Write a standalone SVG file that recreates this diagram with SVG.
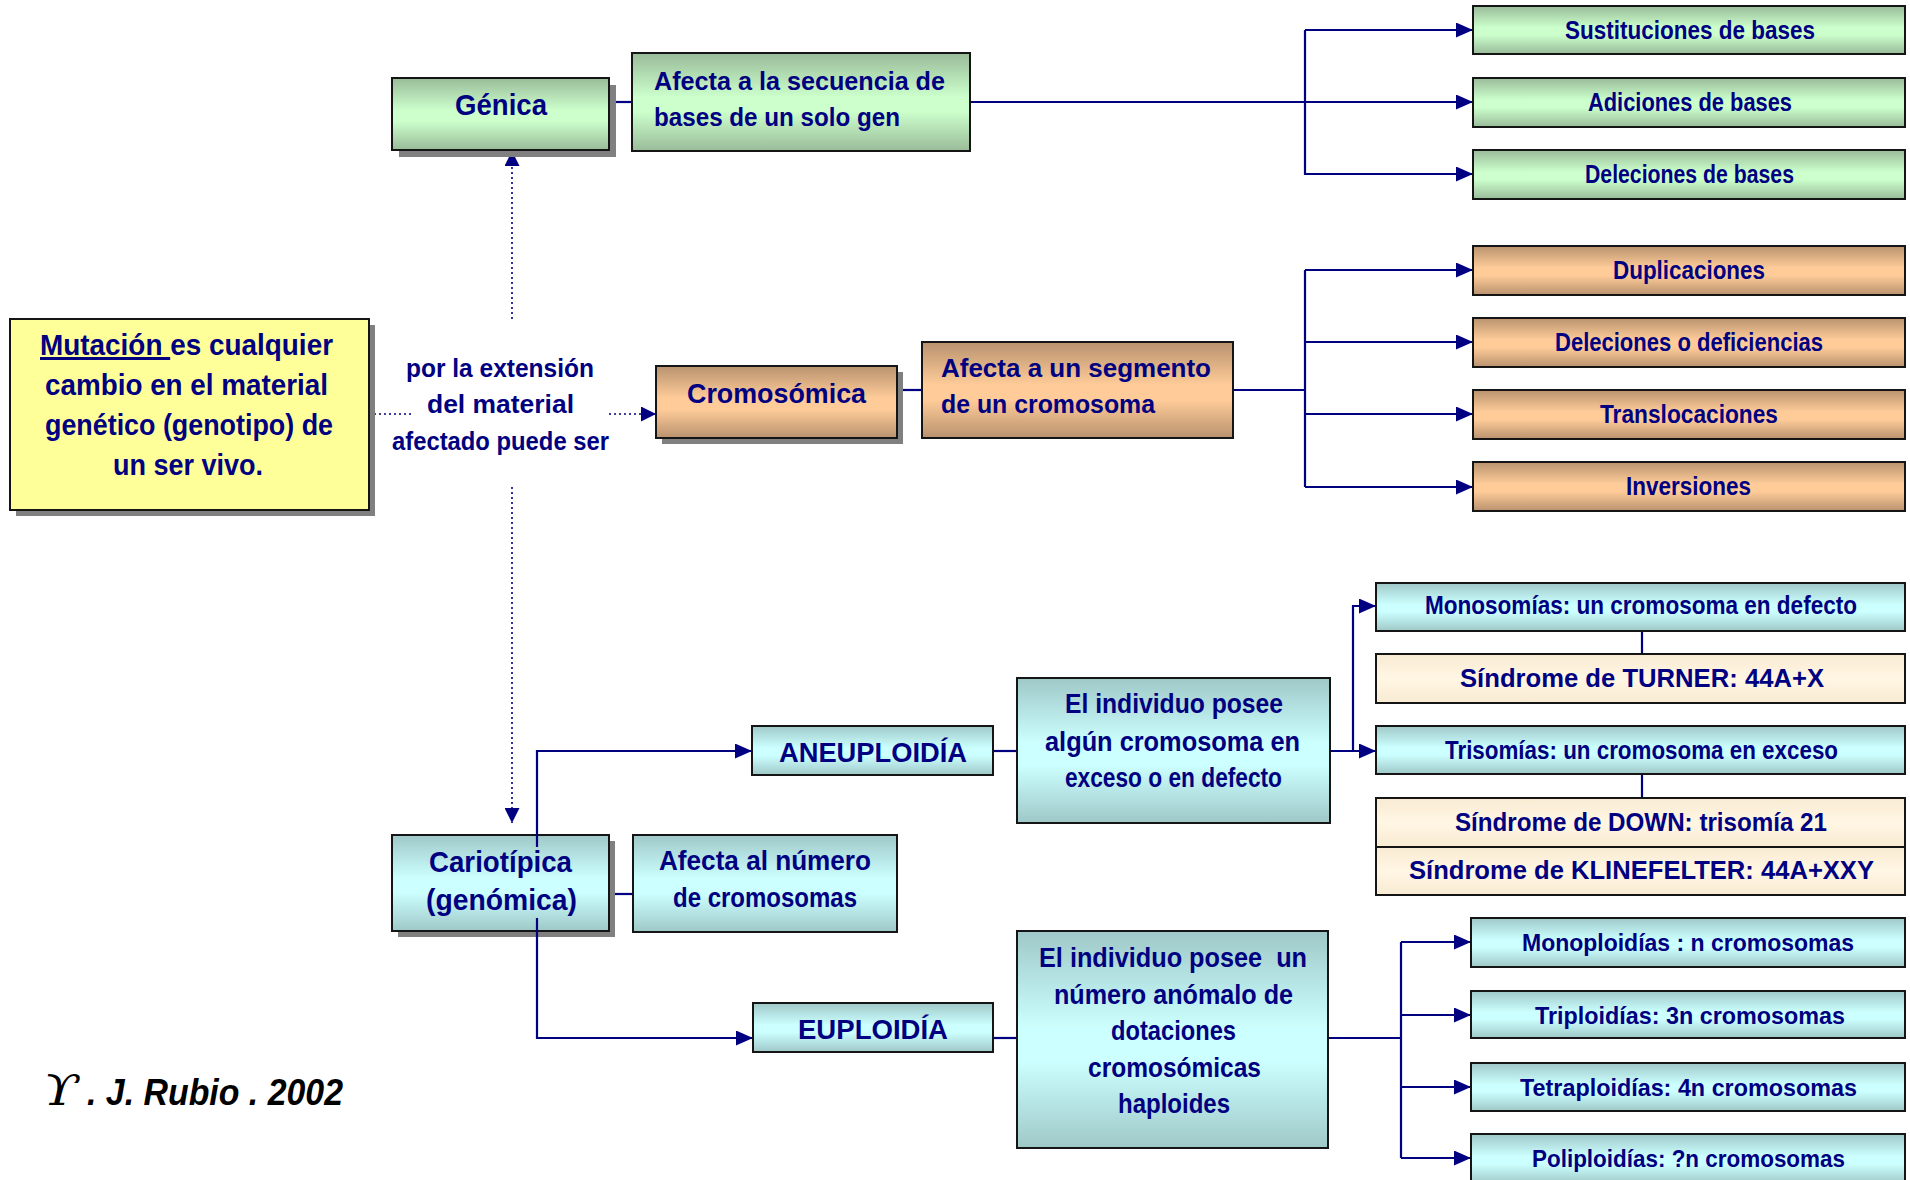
<svg xmlns="http://www.w3.org/2000/svg" width="1910" height="1180" viewBox="0 0 1910 1180">
<defs>
<linearGradient id="gGreen" x1="0" y1="0" x2="0" y2="1">
<stop offset="0" stop-color="#99BB99"/><stop offset="0.45" stop-color="#CCFFCC"/><stop offset="0.6" stop-color="#CCFFCC"/><stop offset="1" stop-color="#99BB99"/>
</linearGradient>
<linearGradient id="gOrange" x1="0" y1="0" x2="0" y2="1">
<stop offset="0" stop-color="#B8926E"/><stop offset="0.45" stop-color="#FFCC99"/><stop offset="0.6" stop-color="#FFCC99"/><stop offset="1" stop-color="#B8926E"/>
</linearGradient>
<linearGradient id="gCyan" x1="0" y1="0" x2="0" y2="1">
<stop offset="0" stop-color="#9FC8C8"/><stop offset="0.45" stop-color="#CCFFFF"/><stop offset="0.6" stop-color="#CCFFFF"/><stop offset="1" stop-color="#9FC8C8"/>
</linearGradient>
<linearGradient id="gBeige" x1="0" y1="0" x2="0" y2="1">
<stop offset="0" stop-color="#F9EBD2"/><stop offset="0.5" stop-color="#FFF6E4"/><stop offset="1" stop-color="#F9EBD2"/>
</linearGradient>
<marker id="arr" markerUnits="userSpaceOnUse" markerWidth="17" markerHeight="15" refX="17" refY="7.5" orient="auto">
<path d="M0,0 L17,7.5 L0,15 z" fill="#000080"/>
</marker>
<marker id="arrS" markerUnits="userSpaceOnUse" markerWidth="15" markerHeight="15" refX="15" refY="7.5" orient="auto">
<path d="M0,0 L15,7.5 L0,15 z" fill="#000080"/>
</marker>
</defs>
<style>
.box{stroke:#151515;stroke-width:2}
.gr{fill:url(#gGreen)}
.or{fill:url(#gOrange)}
.cy{fill:url(#gCyan)}
.be{fill:url(#gBeige)}
.ye{fill:#FFFF99}
.sh{fill:#808080}
text{font-family:"Liberation Sans",Arial,sans-serif;font-weight:bold;fill:#000080}
.c{text-anchor:middle}
.f30{font-size:30px}
.f27{font-size:27px}
.f25{font-size:25px}
.f24{font-size:24px}
.ln{fill:none;stroke:#000080;stroke-width:2.2}
.dot{fill:none;stroke:#000080;stroke-width:1.6;stroke-dasharray:2,3}
</style>
<rect width="1910" height="1180" fill="#FFFFFF"/>

<g id="connectors">
<line class="dot" x1="369" y1="414" x2="414" y2="414"/>
<line class="dot" x1="609" y1="414" x2="656" y2="414" marker-end="url(#arrS)"/>
<line class="dot" x1="512" y1="319" x2="512" y2="151" marker-end="url(#arrS)"/>
<line class="dot" x1="512" y1="487" x2="512" y2="823" marker-end="url(#arrS)"/>
<line class="ln" x1="609" y1="102" x2="632" y2="102"/>
<line class="ln" x1="970" y1="102" x2="1473" y2="102" marker-end="url(#arr)"/>
<polyline class="ln" points="1305,30 1305,174 1473,174" marker-end="url(#arr)"/>
<line class="ln" x1="1305" y1="30" x2="1473" y2="30" marker-end="url(#arr)"/>
<line class="ln" x1="897" y1="390" x2="922" y2="390"/>
<line class="ln" x1="1233" y1="390" x2="1305" y2="390"/>
<line class="ln" x1="1305" y1="270" x2="1305" y2="487"/>
<line class="ln" x1="1305" y1="270" x2="1473" y2="270" marker-end="url(#arr)"/>
<line class="ln" x1="1305" y1="342" x2="1473" y2="342" marker-end="url(#arr)"/>
<line class="ln" x1="1305" y1="414" x2="1473" y2="414" marker-end="url(#arr)"/>
<line class="ln" x1="1305" y1="487" x2="1473" y2="487" marker-end="url(#arr)"/>
<line class="ln" x1="609" y1="894" x2="633" y2="894"/>
<line class="ln" x1="993" y1="751" x2="1017" y2="751"/>
<line class="ln" x1="1330" y1="751" x2="1376" y2="751" marker-end="url(#arr)"/>
<polyline class="ln" points="1353,751 1353,606 1376,606" marker-end="url(#arr)"/>
<line class="ln" x1="1642" y1="631" x2="1642" y2="654"/>
<line class="ln" x1="1642" y1="774" x2="1642" y2="798"/>
<line class="ln" x1="993" y1="1038" x2="1017" y2="1038"/>
<line class="ln" x1="1328" y1="1038" x2="1401" y2="1038"/>
<line class="ln" x1="1401" y1="942" x2="1401" y2="1158"/>
<line class="ln" x1="1401" y1="942" x2="1471" y2="942" marker-end="url(#arr)"/>
<line class="ln" x1="1401" y1="1015" x2="1471" y2="1015" marker-end="url(#arr)"/>
<line class="ln" x1="1401" y1="1087" x2="1471" y2="1087" marker-end="url(#arr)"/>
<line class="ln" x1="1401" y1="1158" x2="1471" y2="1158" marker-end="url(#arr)"/>
</g>

<g id="mutacion">
<rect class="sh" x="16" y="325" width="359" height="191"/>
<rect class="box ye" x="10" y="319" width="359" height="191"/>
<text class="f30" x="40" y="355" textLength="293" lengthAdjust="spacingAndGlyphs"><tspan text-decoration="underline">Mutación </tspan>es cualquier</text>
<text class="f30 c" x="186.5" y="395" textLength="283" lengthAdjust="spacingAndGlyphs">cambio en el material</text>
<text class="f30 c" x="189" y="435" textLength="288" lengthAdjust="spacingAndGlyphs">genético (genotipo) de</text>
<text class="f30 c" x="188" y="475" textLength="150" lengthAdjust="spacingAndGlyphs">un ser vivo.</text>
</g>

<g id="label-extension">
<text class="f25 c" x="500" y="377" textLength="188" lengthAdjust="spacingAndGlyphs">por la extensión</text>
<text class="f25 c" x="500.5" y="413" textLength="147" lengthAdjust="spacingAndGlyphs">del material</text>
<text class="f25 c" x="500.5" y="450" textLength="217" lengthAdjust="spacingAndGlyphs">afectado puede ser</text>
</g>

<g id="genica">
<rect class="sh" x="399" y="85" width="217" height="72"/>
<rect class="box gr" x="392" y="78" width="217" height="72"/>
<text class="f30 c" x="501" y="115" textLength="92" lengthAdjust="spacingAndGlyphs">Génica</text>
</g>
<g id="afecta-secuencia">
<rect class="box gr" x="632" y="53" width="338" height="98"/>
<text class="f25" x="654" y="90" textLength="291" lengthAdjust="spacingAndGlyphs">Afecta a la secuencia de</text>
<text class="f25" x="654" y="126" textLength="246" lengthAdjust="spacingAndGlyphs">bases de un solo gen</text>
</g>
<g id="sustituciones">
<rect class="box gr" x="1473" y="6" width="432" height="48"/>
<text class="f25 c" x="1690" y="39" textLength="250" lengthAdjust="spacingAndGlyphs">Sustituciones de bases</text>
</g>
<g id="adiciones">
<rect class="box gr" x="1473" y="78" width="432" height="49"/>
<text class="f25 c" x="1690" y="111" textLength="204" lengthAdjust="spacingAndGlyphs">Adiciones de bases</text>
</g>
<g id="deleciones-bases">
<rect class="box gr" x="1473" y="150" width="432" height="49"/>
<text class="f25 c" x="1689.5" y="183" textLength="209" lengthAdjust="spacingAndGlyphs">Deleciones de bases</text>
</g>

<g id="cromosomica">
<rect class="sh" x="662" y="372" width="241" height="72"/>
<rect class="box or" x="656" y="366" width="241" height="72"/>
<text class="f27 c" x="776.5" y="403" textLength="179" lengthAdjust="spacingAndGlyphs">Cromosómica</text>
</g>
<g id="afecta-segmento">
<rect class="box or" x="922" y="342" width="311" height="96"/>
<text class="f25" x="941" y="377" textLength="270" lengthAdjust="spacingAndGlyphs">Afecta a un segmento</text>
<text class="f25" x="941" y="413" textLength="214" lengthAdjust="spacingAndGlyphs">de un cromosoma</text>
</g>
<g id="duplicaciones">
<rect class="box or" x="1473" y="246" width="432" height="49"/>
<text class="f25 c" x="1689" y="279" textLength="152" lengthAdjust="spacingAndGlyphs">Duplicaciones</text>
</g>
<g id="deleciones-deficiencias">
<rect class="box or" x="1473" y="318" width="432" height="49"/>
<text class="f25 c" x="1689" y="351" textLength="268" lengthAdjust="spacingAndGlyphs">Deleciones o deficiencias</text>
</g>
<g id="translocaciones">
<rect class="box or" x="1473" y="390" width="432" height="49"/>
<text class="f25 c" x="1689" y="423" textLength="178" lengthAdjust="spacingAndGlyphs">Translocaciones</text>
</g>
<g id="inversiones">
<rect class="box or" x="1473" y="462" width="432" height="49"/>
<text class="f25 c" x="1688.5" y="495" textLength="125" lengthAdjust="spacingAndGlyphs">Inversiones</text>
</g>

<g id="cariotipica">
<rect class="sh" x="398" y="841" width="217" height="96"/>
<rect class="box cy" x="392" y="835" width="217" height="96"/>
<text class="f30 c" x="500.5" y="872" textLength="143" lengthAdjust="spacingAndGlyphs">Cariotípica</text>
<text class="f30 c" x="501.5" y="910" textLength="151" lengthAdjust="spacingAndGlyphs">(genómica)</text>
</g>
<g id="cariotipica-lines">
<polyline class="ln" points="537,847 537,751 752,751" marker-end="url(#arr)"/>
<polyline class="ln" points="537,918 537,1038 753,1038" marker-end="url(#arr)"/>
</g>
<g id="afecta-numero">
<rect class="box cy" x="633" y="835" width="264" height="97"/>
<text class="f27 c" x="765" y="870" textLength="212" lengthAdjust="spacingAndGlyphs">Afecta al número</text>
<text class="f27 c" x="765" y="907" textLength="184" lengthAdjust="spacingAndGlyphs">de cromosomas</text>
</g>
<g id="aneuploidia">
<rect class="box cy" x="752" y="726" width="241" height="49"/>
<text class="f27 c" x="873" y="762" textLength="188" lengthAdjust="spacingAndGlyphs">ANEUPLOIDÍA</text>
</g>
<g id="individuo-aneu">
<rect class="box cy" x="1017" y="678" width="313" height="145"/>
<text class="f27 c" x="1174" y="713" textLength="218" lengthAdjust="spacingAndGlyphs">El individuo posee</text>
<text class="f27 c" x="1172.5" y="751" textLength="255" lengthAdjust="spacingAndGlyphs">algún cromosoma en</text>
<text class="f27 c" x="1173.5" y="787" textLength="217" lengthAdjust="spacingAndGlyphs">exceso o en defecto</text>
</g>
<g id="monosomias">
<rect class="box cy" x="1376" y="583" width="529" height="48"/>
<text class="f25 c" x="1641" y="614" textLength="432" lengthAdjust="spacingAndGlyphs">Monosomías: un cromosoma en defecto</text>
</g>
<g id="turner">
<rect class="box be" x="1376" y="654" width="529" height="49"/>
<text class="f25 c" x="1642" y="687" textLength="364" lengthAdjust="spacingAndGlyphs">Síndrome de TURNER: 44A+X</text>
</g>
<g id="trisomias">
<rect class="box cy" x="1376" y="726" width="529" height="48"/>
<text class="f25 c" x="1641.5" y="759" textLength="393" lengthAdjust="spacingAndGlyphs">Trisomías: un cromosoma en exceso</text>
</g>
<g id="down">
<rect class="box be" x="1376" y="798" width="529" height="49"/>
<text class="f25 c" x="1641" y="831" textLength="372" lengthAdjust="spacingAndGlyphs">Síndrome de DOWN: trisomía 21</text>
</g>
<g id="klinefelter">
<rect class="box be" x="1376" y="847" width="529" height="48"/>
<text class="f25 c" x="1641.5" y="879" textLength="465" lengthAdjust="spacingAndGlyphs">Síndrome de KLINEFELTER: 44A+XXY</text>
</g>

<g id="euploidia">
<rect class="box cy" x="753" y="1003" width="240" height="49"/>
<text class="f27 c" x="873" y="1039" textLength="150" lengthAdjust="spacingAndGlyphs">EUPLOIDÍA</text>
</g>
<g id="individuo-euplo">
<rect class="box cy" x="1017" y="931" width="311" height="217"/>
<text class="f27 c" x="1173" y="967" textLength="268" lengthAdjust="spacingAndGlyphs" xml:space="preserve">El individuo posee  un</text>
<text class="f27 c" x="1173.5" y="1004" textLength="239" lengthAdjust="spacingAndGlyphs">número anómalo de</text>
<text class="f27 c" x="1173.5" y="1040" textLength="125" lengthAdjust="spacingAndGlyphs">dotaciones</text>
<text class="f27 c" x="1174.5" y="1077" textLength="173" lengthAdjust="spacingAndGlyphs">cromosómicas</text>
<text class="f27 c" x="1174" y="1113" textLength="112" lengthAdjust="spacingAndGlyphs">haploides</text>
</g>
<g id="monoploidias">
<rect class="box cy" x="1471" y="918" width="434" height="49"/>
<text class="f24 c" x="1688" y="951" textLength="332" lengthAdjust="spacingAndGlyphs">Monoploidías : n cromosomas</text>
</g>
<g id="triploidias">
<rect class="box cy" x="1471" y="991" width="434" height="47"/>
<text class="f24 c" x="1690" y="1024" textLength="310" lengthAdjust="spacingAndGlyphs">Triploidías: 3n cromosomas</text>
</g>
<g id="tetraploidias">
<rect class="box cy" x="1471" y="1063" width="434" height="48"/>
<text class="f24 c" x="1688.5" y="1096" textLength="337" lengthAdjust="spacingAndGlyphs">Tetraploidías: 4n cromosomas</text>
</g>
<g id="poliploidias">
<rect class="box cy" x="1471" y="1134" width="434" height="50"/>
<text class="f24 c" x="1688.5" y="1167" textLength="313" lengthAdjust="spacingAndGlyphs">Poliploidías: ?n cromosomas</text>
</g>

<g id="firma">
<text x="43" y="1105" style="font-size:42px;font-style:italic;font-weight:normal;fill:#000000;font-family:'DejaVu Serif','Liberation Serif',serif" textLength="36" lengthAdjust="spacingAndGlyphs">ϒ</text>
<text x="87" y="1105" style="font-size:36px;font-style:italic;fill:#000000" textLength="256" lengthAdjust="spacingAndGlyphs">. J. Rubio . 2002</text>
</g>
</svg>
